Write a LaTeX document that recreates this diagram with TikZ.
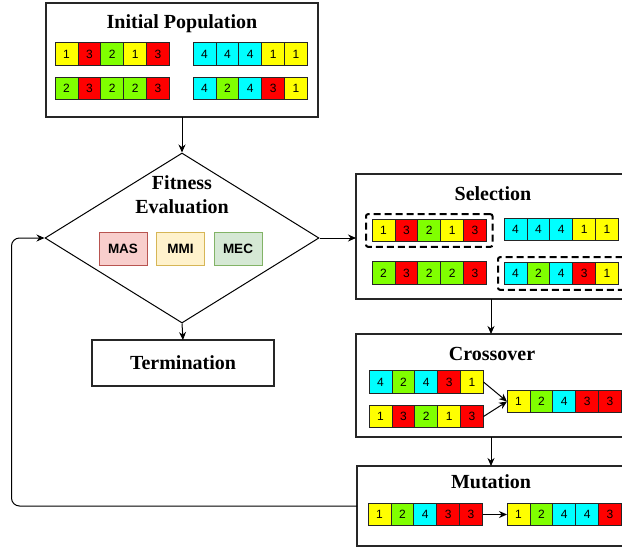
\documentclass[tikz,border=0pt]{standalone}
\usepackage{fontspec}
\setmainfont{Liberation Serif}
\setsansfont{Liberation Sans}
\usetikzlibrary{shapes.geometric,arrows.meta,calc,fit}
\definecolor{cy}{HTML}{00FFFF}
\definecolor{ye}{HTML}{FFFF00}
\definecolor{rd}{HTML}{FF0000}
\definecolor{gr}{HTML}{80FF00}
\definecolor{masf}{HTML}{F8CECC}\definecolor{masd}{HTML}{B85450}
\definecolor{mmif}{HTML}{FFF2CC}\definecolor{mmid}{HTML}{D6B656}
\definecolor{mecf}{HTML}{D5E8D4}\definecolor{mecd}{HTML}{82B366}
\tikzset{
 cell/.style={draw=black!85, line width=0.8pt, minimum width=22.9pt, minimum height=22.6pt, inner sep=0pt, outer sep=0pt, anchor=west, font=\sffamily\fontsize{12}{14}\selectfont},
 bigbox/.style={draw=black!85, line width=1.1pt, inner sep=0pt, outer sep=0pt, fill=white},
 title/.style={font=\bfseries\fontsize{20}{22}\selectfont, inner sep=0pt},
 metric/.style={line width=1pt, minimum width=48pt, minimum height=33pt, font=\sffamily\bfseries\fontsize{13.5}{15}\selectfont, inner sep=0pt},
 arr/.style={-{Stealth[length=8pt,width=7pt]}, line width=1pt},
 dashbox/.style={draw, line width=2pt, dash pattern=on 7pt off 4pt, rounded corners=2pt, inner xsep=6pt, inner ysep=5pt}
}
\newcommand\chrom[3]{\foreach \c/\n [count=\i] in {#3}{\node[cell,fill=\c] (#1-\i) at ($(#2)+({(\i-1)*22.9},0)$) {\n};}}
\begin{document}
\begin{tikzpicture}[x=1pt,y=-1pt]
\useasboundingbox (0,0) rectangle (622,549);
\clip (0,0) rectangle (622,549);
% boxes
\node[bigbox, minimum width=272pt, minimum height=114pt] (init) at (182,60) {};
\node[title] (initt) at (182,24) {Initial Population};
\chrom{ipa}{55,54}{ye/1,rd/3,gr/2,ye/1,rd/3}
\chrom{ipb}{193,54}{cy/4,cy/4,cy/4,ye/1,ye/1}
\chrom{ipc}{55,88.5}{gr/2,rd/3,gr/2,gr/2,rd/3}
\chrom{ipd}{193,88.5}{cy/4,gr/2,cy/4,rd/3,ye/1}
% diamond
\node[diamond, draw, line width=1pt, minimum width=274pt, minimum height=170pt, inner sep=0pt] (fit) at (182,238) {};
\node[title, align=center, font=\bfseries\fontsize{20}{24}\selectfont] (fitt) at (182,195) {Fitness\\Evaluation};
\node[metric, draw=masd, fill=masf] (mas) at (123,248.5) {MAS};
\node[metric, draw=mmid, fill=mmif] (mmi) at (180.5,248.5) {MMI};
\node[metric, draw=mecd, fill=mecf] (mec) at (238,248.5) {MEC};
% termination
\node[bigbox, minimum width=182pt, minimum height=46pt] (term) at (183,363) {};
\node[title] (termt) at (183,363) {Termination};
% selection
\node[bigbox, minimum width=270pt, minimum height=125pt] (sel) at (491,236.5) {};
\node[title] (selt) at (493,194) {Selection};
\chrom{sa}{372,230.5}{ye/1,rd/3,gr/2,ye/1,rd/3}
\chrom{sb}{504,229.5}{cy/4,cy/4,cy/4,ye/1,ye/1}
\chrom{sc}{372,273}{gr/2,rd/3,gr/2,gr/2,rd/3}
\chrom{sd}{504,273.5}{cy/4,gr/2,cy/4,rd/3,ye/1}
\node[dashbox, fit=(sa-1)(sa-5)] (da) {};
\node[dashbox, fit=(sd-1)(sd-5)] (dd) {};
% crossover
\node[bigbox, minimum width=270pt, minimum height=103pt] (cross) at (491,385.5) {};
\node[title] (crosst) at (492,354) {Crossover};
\chrom{ca}{369,382}{cy/4,gr/2,cy/4,rd/3,ye/1}
\chrom{cb}{369,416.5}{ye/1,rd/3,gr/2,ye/1,rd/3}
\chrom{cc}{507,401.5}{ye/1,gr/2,cy/4,rd/3,rd/3}
% mutation
\node[bigbox, minimum width=268pt, minimum height=80pt] (mut) at (491,506) {};
\node[title] (mutt) at (491,482) {Mutation};
\chrom{ma}{368,514.5}{ye/1,gr/2,cy/4,rd/3,rd/3}
\chrom{mb}{507,514.5}{ye/1,gr/2,cy/4,cy/4,rd/3}
% connectors
\draw[arr] (init.south) -- (fit.north);
\draw[arr] (fit.south) -- (term.north);
\draw[arr] (fit.east) -- (fit.east -| sel.west);
\draw[arr] (sel.south) -- (cross.north);
\draw[arr] (cross.south) -- (mut.north);
\draw[arr] (ca-5.east) -- (cc-1.west);
\draw[arr] (cb-5.east) -- (cc-1.west);
\draw[arr] (ma-5.east) -- (mb-1.west);
\coordinate (lp) at ($(fit.west)+(-33,0)$);
\draw[arr, rounded corners=8pt] (mut.west) -| (lp) -- (fit.west);
\end{tikzpicture}
\end{document}
